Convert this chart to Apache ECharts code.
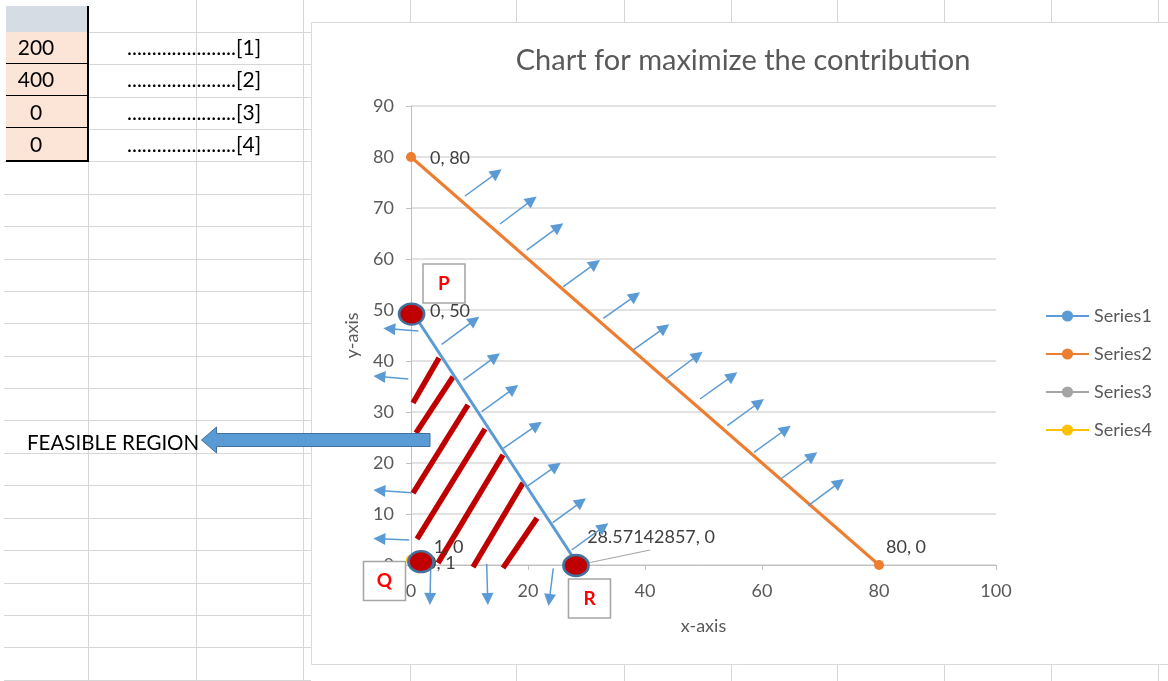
<!DOCTYPE html>
<html><head><meta charset="utf-8">
<script src="https://cdn.jsdelivr.net/npm/echarts@6/dist/echarts.min.js"></script>
<style>html,body{margin:0;padding:0;background:#fff}#c{width:1168px;height:681px}</style>
</head><body><div id="c"></div>
<script>
// ---------- data ----------
const chartTitle = 'Chart for maximize the contribution';
const seriesNames = ['Series1', 'Series2', 'Series3', 'Series4'];
const series1 = [[0, 50], [28.57142857, 0]];
const series2 = [[0, 80], [80, 0]];
const series3 = [[1, 0]];
const series4 = [[0, 1]];
const series1Labels = ['0, 50', '28.57142857, 0'];
const series2Labels = ['0, 80', '80, 0'];
const series3Labels = ['1, 0'];
const series4Labels = ['0, 1'];
const xTicks = [0, 20, 40, 60, 80, 100];
const yTicks = [0, 10, 20, 30, 40, 50, 60, 70, 80, 90];
const xAxisName = 'x-axis';
const yAxisName = 'y-axis';
const cellValues = ['200', '400', '0', '0'];
const cellNotes = ['......................[1]', '......................[2]', '......................[3]', '......................[4]'];
const regionLabel = 'FEASIBLE REGION';
const cornerNames = ['P', 'Q', 'R'];
const cornerPoints = [[0.1, 49.2], [1.71, 0.65], [28.2, -0.1]];
const cornerBoxes = [[5.64, 55.2], [-4.53, -3.14], [30.51, -6.57]];
const hatchSegments = [
  [[0.34, 31.8], [4.79, 40.6]],
  [[0.85, 25.9], [7.18, 36.9]],
  [[0.34, 14.1], [9.74, 31.4]],
  [[1.03, 5.1], [12.65, 26.7]],
  [[4.62, 0.4], [15.73, 21.6]],
  [[10.6, -0.4], [19.15, 16.1]],
  [[15.73, -0.6], [21.54, 9.2]]
];
const arrowsSeries2 = [
  [[9.23, 72.35], [14.67, 76.90]],
  [[15.21, 66.86], [20.66, 71.53]],
  [[19.78, 61.76], [25.20, 66.31]],
  [[26.03, 54.57], [31.48, 59.11]],
  [[32.87, 48.37], [38.32, 52.78]],
  [[38.00, 42.16], [43.32, 46.51]],
  [[43.71, 36.60], [49.03, 41.13]],
  [[49.40, 32.55], [54.95, 37.09]],
  [[54.07, 27.31], [59.51, 31.86]],
  [[58.63, 22.10], [64.08, 26.62]],
  [[63.20, 16.86], [68.62, 21.41]],
  [[67.91, 11.63], [73.19, 16.17]]
];
const arrowsSeries1 = [
  [[5.25, 43.27], [10.85, 48.0]],
  [[8.94, 36.27], [14.38, 40.82]],
  [[12.09, 30.06], [17.51, 34.6]],
  [[15.78, 22.88], [21.51, 27.41]],
  [[19.78, 15.35], [24.76, 19.37]],
  [[24.22, 8.29], [29.08, 12.39]],
  [[27.47, 2.94], [32.9, 7.49]]
];
const arrowsLeft = [
  [[1.25, 45.88], [-3.71, 46.31]],
  [[-0.46, 36.47], [-5.41, 36.96]],
  [[0.12, 14.18], [-5.41, 14.61]],
  [[-0.29, 4.9], [-5.41, 5.14]]
];
const arrowsDown = [
  [[3.37, -0.33], [3.25, -6.66]],
  [[12.94, 0.2], [13.11, -6.66]],
  [[24.32, -0.65], [23.64, -6.86]]
];
const leaderLine = [[[28.57142857, 0], [40.85, 2.94]]];

// ---------- layout / style ----------
const FONT = 'Lato';
const gridCol = '#D6D6D6';
const G = [];
const rowYs = [];
for (let k = 0; k < 21; k++) rowYs.push(Math.round(31.7 + k * 32.4) + 0.5);
rowYs.forEach((y) => {
  const x1 = y < 160 ? 88 : 4;
  G.push({type: 'line', z: -20, shape: {x1: x1, y1: y, x2: 311, y2: y}, style: {stroke: gridCol, lineWidth: 1}});
});
[196.5, 303.5].forEach(x => G.push({type: 'line', z: -20, shape: {x1: x, y1: 0, x2: x, y2: 681}, style: {stroke: gridCol, lineWidth: 1}}));
G.push({type: 'line', z: -20, shape: {x1: 88.5, y1: 161, x2: 88.5, y2: 681}, style: {stroke: gridCol, lineWidth: 1}});
[410.5, 516.5, 624.5, 731.5, 837.5, 944.5, 1051.5, 1158.5].forEach(x => G.push({type: 'line', z: -20, shape: {x1: x, y1: 0, x2: x, y2: 681}, style: {stroke: gridCol, lineWidth: 1}}));
G.push({type: 'rect', z: -19, shape: {x: 6, y: 6, width: 82, height: 26}, style: {fill: '#D6DCE4'}});
G.push({type: 'rect', z: -19, shape: {x: 6, y: 32, width: 82, height: 129}, style: {fill: '#FCE4D6'}});
[63.5, 95.5, 127.5].forEach(y => G.push({type: 'line', z: -18, shape: {x1: 6, y1: y, x2: 88, y2: y}, style: {stroke: '#000', lineWidth: 1}}));
G.push({type: 'line', z: -18, shape: {x1: 6, y1: 161, x2: 89, y2: 161}, style: {stroke: '#000', lineWidth: 2}});
G.push({type: 'line', z: -18, shape: {x1: 88, y1: 6, x2: 88, y2: 162}, style: {stroke: '#000', lineWidth: 2}});
cellValues.forEach((v, i) => {
  G.push({type: 'text', z: -17, style: {text: v, x: 36, y: 48 + i * 32.4, textAlign: 'center', textVerticalAlign: 'middle', font: '21px ' + FONT, fill: '#000'}});
  G.push({type: 'text', z: -17, style: {text: cellNotes[i], x: 127, y: 48 + i * 32.4, textAlign: 'left', textVerticalAlign: 'middle', font: '21px ' + FONT, fill: '#000'}});
});
G.push({type: 'rect', z: -10, shape: {x: 311.5, y: 22.5, width: 900, height: 642}, style: {fill: '#fff', stroke: '#D9D9D9', lineWidth: 1}});
G.push({type: 'polygon', z: 50, shape: {points: [[430, 433.5], [216.5, 433.5], [216.5, 427], [201.5, 440], [216.5, 453], [216.5, 446.5], [430, 446.5]]}, style: {fill: '#5B9BD5', stroke: '#41719C', lineWidth: 1}});
G.push({type: 'text', z: 50, style: {text: regionLabel, x: 27, y: 443, textAlign: 'left', textVerticalAlign: 'middle', font: '20.5px ' + FONT, fill: '#000'}});

function pts(data, labels, labelCfg) {
  return data.map((v, i) => ({value: v, label: Object.assign({show: true, formatter: labels[i]}, labelCfg[i])}));
}
const lblBase = {color: '#404040', fontSize: 18, fontFamily: FONT};

const chart = echarts.init(document.getElementById('c'));
chart.setOption({
  animation: false,
  textStyle: {fontFamily: FONT},
  title: {text: chartTitle, left: 738, top: 41, textAlign: 'center', textStyle: {fontSize: 29, fontWeight: 'normal', color: '#595959', fontFamily: FONT}},
  legend: {
    data: seriesNames, orient: 'vertical', left: 1040, top: 302, itemWidth: 43, itemHeight: 14, itemGap: 20,
    textStyle: {fontSize: 18, color: '#595959', fontFamily: FONT}
  },
  graphic: G,
  grid: {left: 411, top: 106, right: 172, bottom: 116, containLabel: false},
  xAxis: {
    type: 'value', min: xTicks[0], max: xTicks[xTicks.length - 1], interval: xTicks[1] - xTicks[0],
    name: xAxisName, nameLocation: 'middle', nameGap: 52, nameTextStyle: {fontSize: 18, color: '#595959'},
    axisLine: {show: true, lineStyle: {color: '#BFBFBF', width: 1}},
    axisTick: {show: true, length: 5, lineStyle: {color: '#BFBFBF'}},
    axisLabel: {fontSize: 18, color: '#595959', margin: 17},
    splitLine: {show: false}
  },
  yAxis: {
    type: 'value', min: yTicks[0], max: yTicks[yTicks.length - 1], interval: yTicks[1] - yTicks[0],
    name: yAxisName, nameLocation: 'middle', nameGap: 50, nameRotate: 90, nameTextStyle: {fontSize: 18, color: '#595959'},
    axisLine: {show: true, lineStyle: {color: '#BFBFBF', width: 1}},
    axisTick: {show: true, length: 5, lineStyle: {color: '#BFBFBF'}},
    axisLabel: {fontSize: 18, color: '#595959', margin: 17},
    splitLine: {show: true, lineStyle: {color: '#D9D9D9', width: 1.5}}
  },
  series: [
    {name: seriesNames[0], type: 'line', z: 3, symbol: 'circle', symbolSize: 10, color: '#5B9BD5', lineStyle: {width: 3},
     data: pts(series1, series1Labels, [Object.assign({position: 'right', distance: 14, offset: [0, 1]}, lblBase), Object.assign({position: 'right', distance: 4, offset: [0, -28]}, lblBase)])},
    {name: seriesNames[1], type: 'line', z: 3, symbol: 'circle', symbolSize: 10, color: '#ED7D31', lineStyle: {width: 3},
     data: pts(series2, series2Labels, [Object.assign({position: 'right', distance: 14, offset: [0, 1]}, lblBase), Object.assign({position: 'right', distance: 2, offset: [0, -18]}, lblBase)])},
    {name: seriesNames[2], type: 'line', z: 3, symbol: 'circle', symbolSize: 10, color: '#A5A5A5', lineStyle: {width: 3},
     data: pts(series3, series3Labels, [Object.assign({position: 'right', distance: 12, offset: [0, -18]}, lblBase)])},
    {name: seriesNames[3], type: 'line', z: 3, symbol: 'circle', symbolSize: 10, color: '#FFC000', lineStyle: {width: 3},
     data: pts(series4, series4Labels, [Object.assign({position: 'right', distance: 10, offset: [0, 3]}, lblBase)])},
    {type: 'lines', coordinateSystem: 'cartesian2d', z: 2, clip: false, silent: true,
     lineStyle: {color: '#C00000', width: 5.5, opacity: 1}, data: hatchSegments.map(s => ({coords: s}))},
    {type: 'lines', coordinateSystem: 'cartesian2d', z: 4, clip: false, silent: true,
     lineStyle: {color: '#A6A6A6', width: 1.2, opacity: 1}, data: leaderLine.map(s => ({coords: s}))},
    {type: 'lines', coordinateSystem: 'cartesian2d', z: 4, clip: false, silent: true,
     symbol: ['none', 'triangle'], symbolSize: 12,
     lineStyle: {color: '#5B9BD5', width: 1.5, opacity: 1},
     data: arrowsSeries2.concat(arrowsSeries1, arrowsLeft, arrowsDown).map(s => ({coords: s}))},
    {type: 'scatter', z: 10, clip: false, silent: true, symbol: 'circle', symbolSize: [25, 21],
     itemStyle: {color: '#C00000', borderColor: '#41719C', borderWidth: 2.5, opacity: 1}, data: cornerPoints},
    {type: 'scatter', z: 10, clip: false, silent: true, symbol: 'rect', symbolSize: [42, 39],
     itemStyle: {color: '#fff', borderColor: '#A6A6A6', borderWidth: 1.5, opacity: 1},
     label: {show: true, position: 'inside', fontSize: 19, fontWeight: 'bold', color: '#FF0000', fontFamily: FONT, formatter: p => cornerNames[p.dataIndex]},
     data: cornerBoxes}
  ]
});
</script></body></html>
